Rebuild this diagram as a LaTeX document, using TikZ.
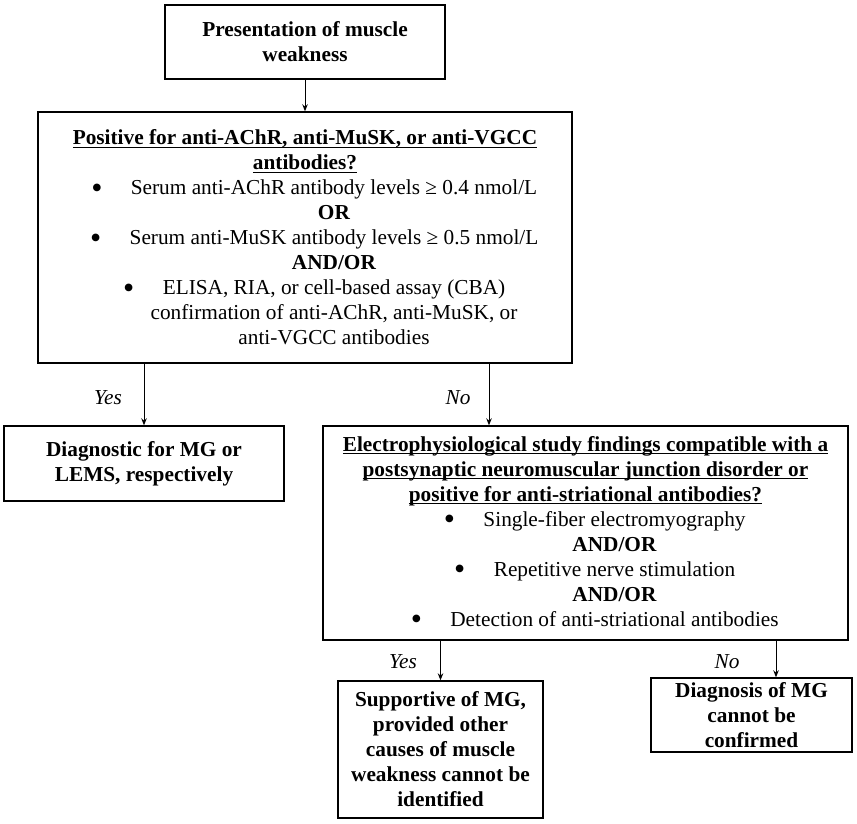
\documentclass[tikz,border=0pt]{standalone}
\usepackage{fontspec}
\usepackage{graphicx}
\setmainfont{Liberation Serif}
\usetikzlibrary{arrows.meta}
\newcommand\myul[1]{\setbox0=\hbox{#1}\rlap{\rule[-3bp]{\wd0}{1.2bp}}\box0}
\newcommand\itm{\hspace*{58bp}\llap{\raisebox{-3.5bp}{\scalebox{1.5}{\textbullet}}\hspace{28.4bp}}}
\newcommand\ind{\hspace*{58bp}}
\begin{document}
\begin{tikzpicture}[x=1bp,y=-1bp,
  box/.style={draw, line width=1.4bp, inner sep=0pt, align=center,
    font=\fontsize{21.3bp}{25bp}\selectfont},
  bbox/.style={box, font=\fontsize{21.3bp}{25bp}\selectfont\bfseries},
  arr/.style={-{Stealth[length=7bp,width=5.5bp]}, line width=1bp},
  lab/.style={inner sep=0pt, font=\fontsize{21.3bp}{25bp}\selectfont\itshape}]
\useasboundingbox (0,0) rectangle (857,824);

\node[bbox, minimum width=280bp, minimum height=74bp] (b1) at (305,42)
  {Presentation of muscle\\weakness};

\node[box, minimum width=534bp, minimum height=251bp] (b2) at (305,237.5)
  {\textbf{\myul{Positive for anti-AChR, anti-MuSK, or anti-VGCC}}\\
   \textbf{\myul{antibodies?}}\\
   \itm Serum anti-AChR antibody levels ≥ 0.4 nmol/L\\
   \ind\textbf{OR}\\
   \itm Serum anti-MuSK antibody levels ≥ 0.5 nmol/L\\
   \ind\textbf{AND/OR}\\
   \itm ELISA, RIA, or cell-based assay (CBA)\\
   \ind confirmation of anti-AChR, anti-MuSK, or\\
   \ind anti-VGCC antibodies};

\node[bbox, minimum width=280bp, minimum height=75bp] (b3) at (144,463.5)
  {Diagnostic for MG or\\LEMS, respectively};

\node[box, minimum width=525bp, minimum height=214bp] (b4) at (585.5,533)
  {\textbf{\myul{Electrophysiological study findings compatible with a}}\\
   \textbf{\myul{postsynaptic neuromuscular junction disorder or}}\\
   \textbf{\myul{positive for anti-striational antibodies?}}\\
   \itm Single-fiber electromyography\\
   \ind\textbf{AND/OR}\\
   \itm Repetitive nerve stimulation\\
   \ind\textbf{AND/OR}\\
   \itm Detection of anti-striational antibodies};

\node[bbox, minimum width=205bp, minimum height=137bp] (b5) at (440.5,749.5)
  {Supportive of MG,\\provided other\\causes of muscle\\weakness cannot be\\identified};

\node[bbox, minimum width=201bp, minimum height=74bp] (b6) at (751.5,715)
  {Diagnosis of MG\\cannot be\\confirmed};

\node[lab] (l1) at (108,398) {Yes};
\node[lab] (l2) at (458,398) {No};
\node[lab] (l3) at (403,662) {Yes};
\node[lab] (l4) at (727,662) {No};

\draw[arr] (b1.south) -- (b2.north);
\draw[arr] (b2.south -| b3.north) -- (b3.north);
\draw[arr] ([xshift=-96.5bp]b4.north |- b2.south) -- ([xshift=-96.5bp]b4.north);
\draw[arr] (b4.south -| b5.north) -- (b5.north);
\draw[arr] ([xshift=24.5bp]b6.north |- b4.south) -- ([xshift=24.5bp]b6.north);
\end{tikzpicture}
\end{document}
